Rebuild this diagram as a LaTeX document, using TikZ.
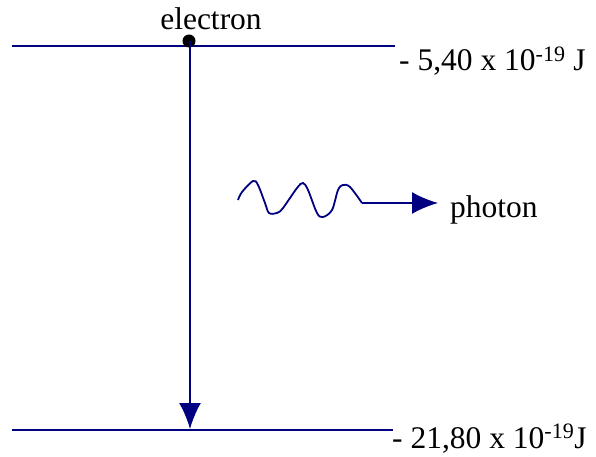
\documentclass[tikz,border=0pt]{standalone}
\usepackage{fontspec}
\setmainfont{Liberation Serif}
\usetikzlibrary{arrows.meta,positioning}
\definecolor{lvlblue}{HTML}{000080}

\begin{document}
\begin{tikzpicture}[x=1pt,y=-1pt,
level/.style={draw=lvlblue,line width=1.8pt},
trans/.style={draw=lvlblue,line width=1.8pt,-{Latex[length=26pt,width=22pt]}},
emit/.style={draw=lvlblue,line width=1.8pt,-{Latex[length=26pt,width=22pt]}},
lbl/.style={font=\fontsize{31.5}{34}\selectfont,inner sep=0pt,anchor=base west}
]
\useasboundingbox (0,0) rectangle (596,457);
% energy levels
\coordinate (t1) at (12,46);  \coordinate (t2) at (395,46);
\coordinate (b1) at (12,430); \coordinate (b2) at (393,430);
\draw[level] (t1) -- (t2);
\draw[level] (b1) -- (b2);
\node[lbl] (upper) at (399,71) {- 5,40 x 10\textsuperscript{-19} J};
\node[lbl] (lower) at (392,448) {- 21,80 x 10\textsuperscript{-19}J};

% electron and its fall
\node[circle,fill=black,inner sep=0pt,minimum size=13pt] (dot) at (189,41) {};
\node[lbl,anchor=base] (electron) at (211,30) {electron};
\coordinate (land) at (190,429);
\draw[trans] (190,41) -- (land);

% photon
\draw[lvlblue,line width=1.8pt] plot[smooth,tension=0.55] coordinates {
(238,200) (242,192) (253,181) (258,185) (265,203) (269,213) (277,213)
(283,208) (297,188) (303,183) (308,190) (317,213) (323,217) (332,210)
(338,190) (343,185) (350,187) (362,203)};
\coordinate (w) at (362,203);
\node[lbl] (photon) at (450,217) {photon};
\draw[emit,shorten >=12pt] (w) -- (w -| photon.west);
\end{tikzpicture}
\end{document}
